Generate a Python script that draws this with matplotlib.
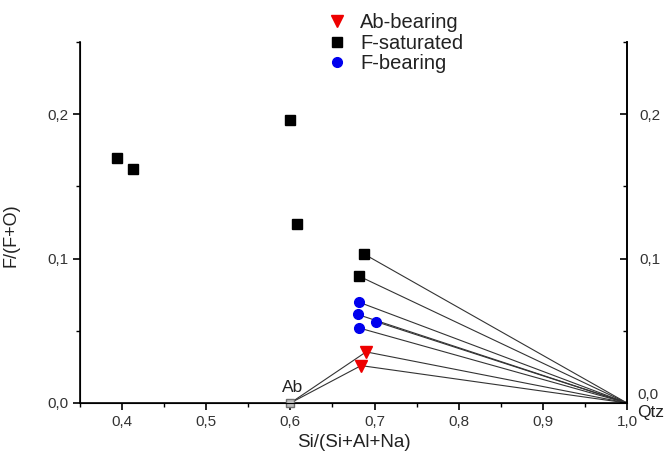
import matplotlib
matplotlib.use("Agg")
import matplotlib.pyplot as plt
from matplotlib.ticker import FuncFormatter, MultipleLocator
from matplotlib.lines import Line2D

plt.rcParams['font.family'] = ['Liberation Sans', 'DejaVu Sans']

# Data
ab_x, ab_y = 0.60, 0.0
qtz_x, qtz_y = 1.0, 0.0

fsat_x = [0.394, 0.413, 0.600, 0.608, 0.688, 0.681]
fsat_y = [0.170, 0.162, 0.196, 0.124, 0.103, 0.088]
fsat_tie = [False, False, False, False, True, True]

fbear_x = [0.682, 0.680, 0.702, 0.682]
fbear_y = [0.0697, 0.0613, 0.0563, 0.0519]

abbear_x = [0.690, 0.684]
abbear_y = [0.0354, 0.0259]

fig = plt.figure(figsize=(6.71, 4.59), dpi=100)
ax = fig.add_axes([80/671, 56/459, 547/671, 361/459])

line_kw = dict(color='#333333', lw=0.8, zorder=1)
# tie lines to Qtz
for x, y, t in zip(fsat_x, fsat_y, fsat_tie):
    if t:
        ax.plot([x, qtz_x], [y, qtz_y], **line_kw)
for x, y in zip(fbear_x, fbear_y):
    ax.plot([x, qtz_x], [y, qtz_y], **line_kw)
for x, y in zip(abbear_x, abbear_y):
    ax.plot([x, qtz_x], [y, qtz_y], **line_kw)
    ax.plot([ab_x, x], [ab_y, y], **line_kw)

ax.plot(fsat_x, fsat_y, 's', color='black', ms=6.5, ls='none', zorder=3)
ax.plot(fbear_x, fbear_y, 'o', color='#0000ee', ms=7, ls='none', zorder=3)
ax.plot(abbear_x, abbear_y, 'v', color='#ee0000', ms=8, ls='none', zorder=3)
ax.plot([ab_x], [ab_y], 's', mfc='#c0c0c0', mec='#707070', ms=6, mew=1, zorder=4, clip_on=False)

ax.set_xlim(0.35, 1.0)
ax.set_ylim(0.0, 0.25)

comma = FuncFormatter(lambda v, p: f"{v:.1f}".replace('.', ','))
comma_nozero = FuncFormatter(lambda v, p: '' if abs(v) < 1e-9 else f"{v:.1f}".replace('.', ','))
ax.xaxis.set_major_locator(MultipleLocator(0.1))
ax.xaxis.set_minor_locator(MultipleLocator(0.05))
ax.yaxis.set_major_locator(MultipleLocator(0.1))
ax.yaxis.set_minor_locator(MultipleLocator(0.05))
ax.xaxis.set_major_formatter(comma)
ax.yaxis.set_major_formatter(comma)

ax.spines['top'].set_visible(False)
for s in ['left', 'right', 'bottom']:
    ax.spines[s].set_linewidth(1.2)

ax.tick_params(axis='both', which='major', direction='out', length=5, width=1.2,
               labelsize=11, colors='black', labelcolor='#333333')
ax.tick_params(axis='both', which='minor', direction='out', length=3, width=1.0)
ax.tick_params(axis='y', right=False)

ax2 = ax.twinx()
ax2.set_ylim(ax.get_ylim())
ax2.yaxis.set_major_locator(MultipleLocator(0.1))
ax2.yaxis.set_minor_locator(MultipleLocator(0.05))
ax2.yaxis.set_major_formatter(comma_nozero)
ax2.spines['top'].set_visible(False)
ax2.spines['right'].set_linewidth(1.2)
ax2.tick_params(axis='y', which='major', direction='in', length=5, width=1.2,
                labelsize=11, pad=9, labelcolor='#333333')
ax2.tick_params(axis='y', which='minor', direction='in', length=3, width=1.0)
# right-hand "0,0" label, raised slightly so it sits above the Qtz label
ax.annotate(comma(0.0), xy=(1.0, 0.0), xytext=(10, 1), textcoords='offset pixels',
            ha='left', va='bottom', fontsize=11, color='#333333')

ax.set_xlabel('Si/(Si+Al+Na)', fontsize=13.5, labelpad=4, color='#222222')
ax.set_ylabel('F/(F+O)', fontsize=13, color='#222222')
ax.yaxis.set_label_coords(-0.11, 0.465)

ax.annotate('Ab', xy=(ab_x, ab_y), xytext=(2, 15), textcoords='offset pixels',
            ha='center', va='center', fontsize=12.5, color='#222222')
ax.annotate('Qtz', xy=(qtz_x, qtz_y), xytext=(10, -10), textcoords='offset pixels',
            ha='left', va='center', fontsize=12.5, color='#222222')

handles = [
    Line2D([], [], marker='v', color='#ee0000', ls='none', ms=9),
    Line2D([], [], marker='s', color='black', ls='none', ms=6.5),
    Line2D([], [], marker='o', color='#0000ee', ls='none', ms=7),
]
labels = ['Ab-bearing', 'F-saturated', 'F-bearing']
fig.legend(handles, labels, loc='upper left', bbox_to_anchor=(315/671, 1 - 5/459),
           frameon=False, fontsize=14.5, handletextpad=0.45, labelspacing=0.08,
           borderaxespad=0, handlelength=1.4, labelcolor='#222222')

fig.savefig('out.png', dpi=100)
